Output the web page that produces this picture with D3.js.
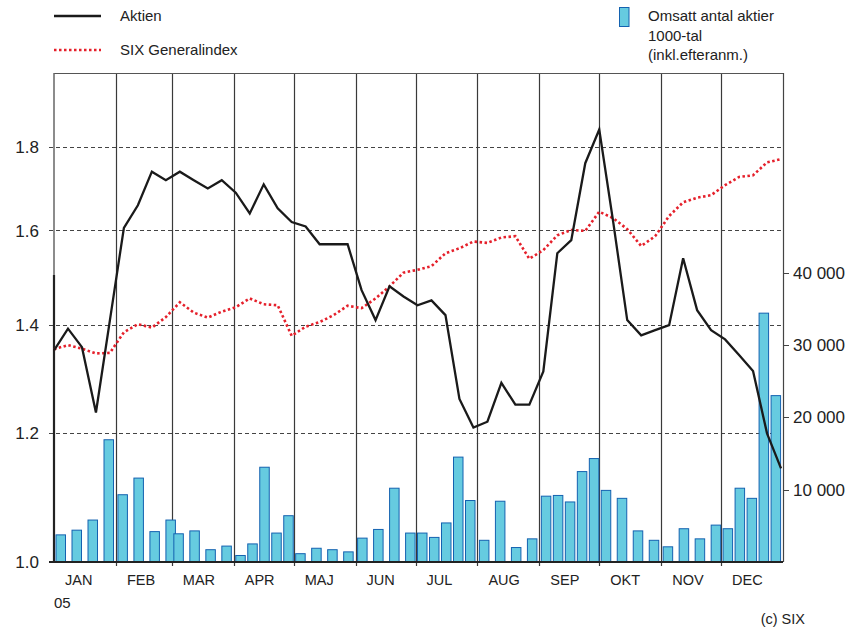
<!DOCTYPE html>
<html><head><meta charset="utf-8">
<script src="https://cdn.jsdelivr.net/npm/d3@7/dist/d3.min.js"></script>
<style>body{margin:0;background:#fff}svg{display:block}text{font-family:"Liberation Sans",Arial,sans-serif;fill:#222}</style>
</head><body><div id="chart"></div>
<script>
const weeks = ["2005-01-01","2005-01-08","2005-01-15","2005-01-22","2005-01-29",
"2005-02-05","2005-02-12","2005-02-19","2005-02-26",
"2005-03-05","2005-03-12","2005-03-19","2005-03-26",
"2005-04-02","2005-04-09","2005-04-16","2005-04-23","2005-04-30",
"2005-05-07","2005-05-14","2005-05-21","2005-05-28",
"2005-06-04","2005-06-11","2005-06-18","2005-06-25",
"2005-07-02","2005-07-09","2005-07-16","2005-07-23","2005-07-30",
"2005-08-06","2005-08-13","2005-08-20","2005-08-27",
"2005-09-03","2005-09-10","2005-09-17","2005-09-24",
"2005-10-01","2005-10-08","2005-10-15","2005-10-22","2005-10-29",
"2005-11-05","2005-11-12","2005-11-19","2005-11-26",
"2005-12-03","2005-12-10","2005-12-17","2005-12-24","2005-12-31"];
const aktien = [1.350,1.392,1.356,1.236,1.409,1.606,1.658,1.739,1.718,1.739,1.718,1.698,1.718,
1.688,1.639,1.708,1.651,1.619,1.609,1.569,1.569,1.569,1.470,1.409,1.478,1.457,
1.439,1.449,1.419,1.260,1.210,1.220,1.289,1.250,1.250,1.310,1.549,1.578,1.760,
1.846,1.619,1.409,1.379,1.389,1.399,1.538,1.429,1.389,1.371,1.341,1.311,1.200,1.142];
const sixIndex = [1.352,1.360,1.353,1.344,1.345,1.385,1.401,1.394,1.415,1.445,1.424,1.414,1.426,
1.435,1.453,1.441,1.439,1.378,1.396,1.405,1.419,1.438,1.433,1.453,1.478,1.507,
1.513,1.521,1.549,1.560,1.575,1.572,1.584,1.587,1.537,1.556,1.589,1.601,1.599,
1.643,1.628,1.603,1.565,1.587,1.633,1.665,1.676,1.682,1.706,1.726,1.730,1.762,1.770];
const volume = [3.75,4.4,5.8,16.9, 9.3,11.6,4.2,5.8, 3.9,4.3,1.7,2.2, 0.9,2.5,13.1,4.0,6.4,
1.15,1.9,1.7,1.4, 3.3,4.5,10.2,4.0, 4.0,3.4,5.4,14.5,8.5, 3.0,8.4,2.0,3.2,
9.1,9.2,8.3,12.5,14.3, 9.9,8.8,4.3,3.0, 2.1,4.6,3.2,5.1, 4.6,10.2,8.8,34.4,23.0];
const volumeWeeksPerMonth = [4,4,4,5,4,4,5,4,5,4,4,5];
const months = ["JAN","FEB","MAR","APR","MAJ","JUN","JUL","AUG","SEP","OKT","NOV","DEC"];
const leftTicks = [1.0,1.2,1.4,1.6,1.8];
const rightTicks = [10000,20000,30000,40000];

const W=864,H=630, L=54, R=783, T=73, B=562;
const parse = d3.utcParse("%Y-%m-%d");
const svg = d3.select("#chart").append("svg").attr("width",W).attr("height",H);
const x = d3.scaleUtc().domain([parse("2005-01-01"),parse("2006-01-01")]).range([L,R]);
const y = d3.scaleLog().domain([1.0,2.0]).range([B,T]);
const y2 = d3.scaleLinear().domain([0,67600]).range([B,T]);
const monthStarts = d3.utcMonth.range(parse("2005-01-01"),parse("2006-01-01"));

// gridlines
svg.append("g").selectAll("line").data(leftTicks.filter(d=>d>1)).join("line")
 .attr("x1",L-5).attr("x2",R).attr("y1",d=>Math.round(y(d))+0.5).attr("y2",d=>Math.round(y(d))+0.5)
 .attr("stroke","#444").attr("stroke-width",1).attr("stroke-dasharray","4,3");

// month lines
svg.append("g").selectAll("line").data(monthStarts.slice(1)).join("line")
 .attr("x1",d=>Math.round(x(d))+0.5).attr("x2",d=>Math.round(x(d))+0.5).attr("y1",T).attr("y2",B+4)
 .attr("stroke","#3a3a3a").attr("stroke-width",1.2);
// frame
svg.append("line").attr("x1",L).attr("x2",R).attr("y1",T+0.5).attr("y2",T+0.5).attr("stroke","#555").attr("stroke-width",1.2);
svg.append("line").attr("x1",R+0.5).attr("x2",R+0.5).attr("y1",T).attr("y2",B).attr("stroke","#444").attr("stroke-width",1.2);
svg.append("line").attr("x1",L).attr("x2",L).attr("y1",T).attr("y2",B).attr("stroke","#666").attr("stroke-width",1.5);
svg.append("line").attr("x1",L).attr("x2",L).attr("y1",275).attr("y2",B).attr("stroke","#222").attr("stroke-width",2.2);

// bars
const bars=[]; let idx=0;
volumeWeeksPerMonth.forEach((n,m)=>{
  const step = n===5?12:16;
  for(let k=0;k<n;k++){ bars.push({x0:x(monthStarts[m])+1.5+k*step, v:volume[idx]*1000}); idx++; }
});
svg.append("g").selectAll("rect").data(bars).join("rect")
 .attr("x",d=>d.x0+0.5).attr("width",9.5).attr("y",d=>y2(d.v)).attr("height",d=>B-y2(d.v))
 .attr("fill","#66cbe0").attr("stroke","#1462b0").attr("stroke-width",1);

// bottom axis
svg.append("line").attr("x1",L-5).attr("x2",R).attr("y1",B).attr("y2",B).attr("stroke","#222").attr("stroke-width",2);

// lines
const dates = weeks.map(parse);
const lineA = d3.line().x((d,i)=>x(dates[i])).y(d=>y(d));
svg.append("path").attr("d",lineA(sixIndex)).attr("fill","none").attr("stroke","#e5202b")
 .attr("stroke-width",2.6).attr("stroke-dasharray","2.5,2.5");
svg.append("path").attr("d",lineA(aktien)).attr("fill","none").attr("stroke","#1a1a1a")
 .attr("stroke-width",2.3).attr("stroke-linejoin","miter");

// left axis labels
svg.append("g").selectAll("text").data(leftTicks).join("text")
 .attr("x",39).attr("y",d=>y(d)).attr("dy","0.36em").attr("text-anchor","end")
 .attr("font-size",17).text(d=>d.toFixed(1));
// right axis
svg.append("g").selectAll("line").data(rightTicks).join("line")
 .attr("x1",R).attr("x2",R+6).attr("y1",d=>Math.round(y2(d))+0.5).attr("y2",d=>Math.round(y2(d))+0.5)
 .attr("stroke","#444");
svg.append("g").selectAll("text").data(rightTicks).join("text")
 .attr("x",793).attr("y",d=>y2(d)).attr("dy","0.36em").attr("font-size",17)
 .text(d=>d3.format(",")(d).replace(/,/g," "));
// month labels
svg.append("g").selectAll("text").data(monthStarts).join("text")
 .attr("x",d=>x(d)+11).attr("y",585).attr("font-size",14.5).text((d,i)=>months[i]);
svg.append("text").attr("x",54).attr("y",608).attr("font-size",15).text("05");
svg.append("text").attr("x",805).attr("y",624).attr("text-anchor","end").attr("font-size",14.5).text("(c) SIX");

// legend
svg.append("line").attr("x1",54).attr("x2",101).attr("y1",16).attr("y2",16).attr("stroke","#1a1a1a").attr("stroke-width",2.3);
svg.append("text").attr("x",120).attr("y",21).attr("font-size",15).text("Aktien");
svg.append("line").attr("x1",54).attr("x2",101).attr("y1",50).attr("y2",50).attr("stroke","#e5202b").attr("stroke-width",2.6).attr("stroke-dasharray","2.5,2.5");
svg.append("text").attr("x",120).attr("y",55).attr("font-size",15).text("SIX Generalindex");
svg.append("rect").attr("x",619.5).attr("y",7.5).attr("width",9.5).attr("height",19).attr("fill","#66cbe0").attr("stroke","#1462b0");
["Omsatt antal aktier","1000-tal","(inkl.efteranm.)"].forEach((t,i)=>
  svg.append("text").attr("x",648).attr("y",21+i*19.5).attr("font-size",15).text(t));
</script></body></html>
